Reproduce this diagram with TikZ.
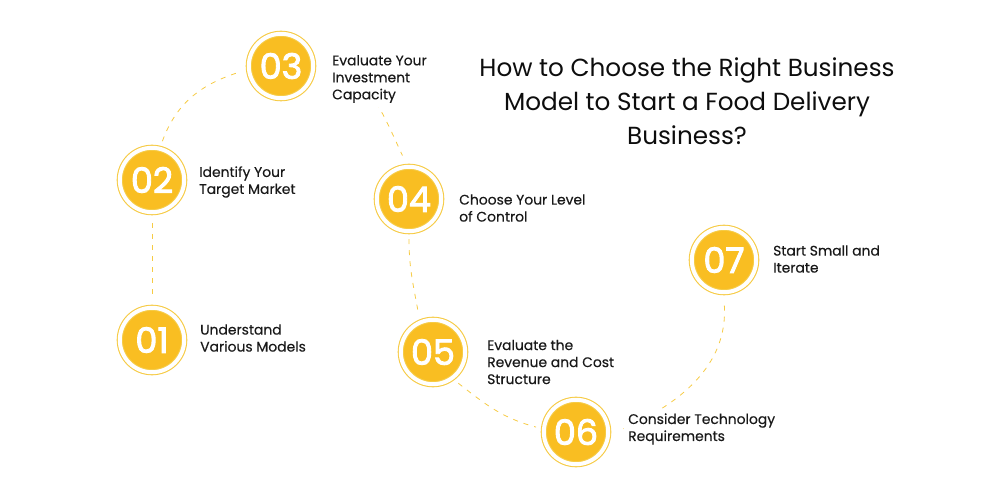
\documentclass[tikz,border=0pt]{standalone}
\usepackage{fontspec}
\setmainfont{Poppins}
\newfontfamily\labelfont{Poppins}[FakeBold=0.3]
\newfontfamily\numberfont{Poppins}[FakeBold=2.6]
\definecolor{stepyellow}{HTML}{F9BE22}
\definecolor{ringyellow}{HTML}{F6CB45}
\tikzset{
    stepcircle/.style={circle, fill=stepyellow, draw=ringyellow, double=white, double distance=4pt,
        line width=1.1pt, minimum size=64.4pt, inner sep=0pt, outer sep=8pt,
        text=white, font=\fontsize{35}{35}\selectfont\numberfont},
    steplabel/.style={anchor=west, align=left, inner sep=0pt, text=black!90,
        font=\fontsize{13.9}{17}\selectfont\labelfont},
    dashline/.style={draw=ringyellow, line width=0.8pt, dash pattern=on 5pt off 6pt}
}
\begin{document}
\begin{tikzpicture}[x=1pt, y=1pt]
        \useasboundingbox (0,0) rectangle (1000,500);

        % circles
        \node[stepcircle] (n01) at (152,160) {01};
        \node[stepcircle] (n02) at (152,320) {02};
        \node[stepcircle] (n03) at (281,434) {03};
        \node[stepcircle] (n04) at (409,301) {04};
        \node[stepcircle] (n05) at (433,148) {05};
        \node[stepcircle] (n06) at (576,68) {06};
        \node[stepcircle] (n07) at (724,240) {07};

        % connectors
        \draw[dashline, shorten <=3pt] (n02.south) -- (n01.north);
        \draw[dashline] (n02.75) to[out=70, in=197] (n03.188);
        \draw[dashline, shorten <=14pt, shorten >=4pt] (n03.east) to[out=-12, in=115] (n04.97);
        \draw[dashline] (n04.south) to[out=-90, in=100] (n05.111);
        \draw[dashline] (n05.-51) to[out=-38, in=165] (n06.173);
        \draw[dashline, shorten <=8pt, shorten >=4pt] (n06.east) to[out=24, in=-86] (n07.south);

        % labels
        \node[steplabel] (l01) at (200,162) {Understand\\Various Models};
        \node[steplabel] (l02) at (199,318) {Identify Your\\Target Market};
        \node[steplabel, fill=white, inner sep=4pt] (l03) at (328,421) {Evaluate Your\\Investment\\Capacity};
        \node[steplabel] (l04) at (459,292) {Choose Your Level\\of Control};
        \node[steplabel] (l05) at (487,138) {Evaluate the\\Revenue and Cost\\Structure};
        \node[steplabel, fill=white, inner sep=4pt] (l06) at (624,71) {Consider Technology\\Requirements};
        \node[steplabel] (l07) at (773,241) {Start Small and\\Iterate};

        % title
        \node[align=center, inner sep=0pt, text=black!95, font=\fontsize{24.7}{34}\selectfont] (title) at (687,399)
            {How to Choose the Right Business\\Model to Start a Food Delivery\\Business?};
\end{tikzpicture}
\end{document}
